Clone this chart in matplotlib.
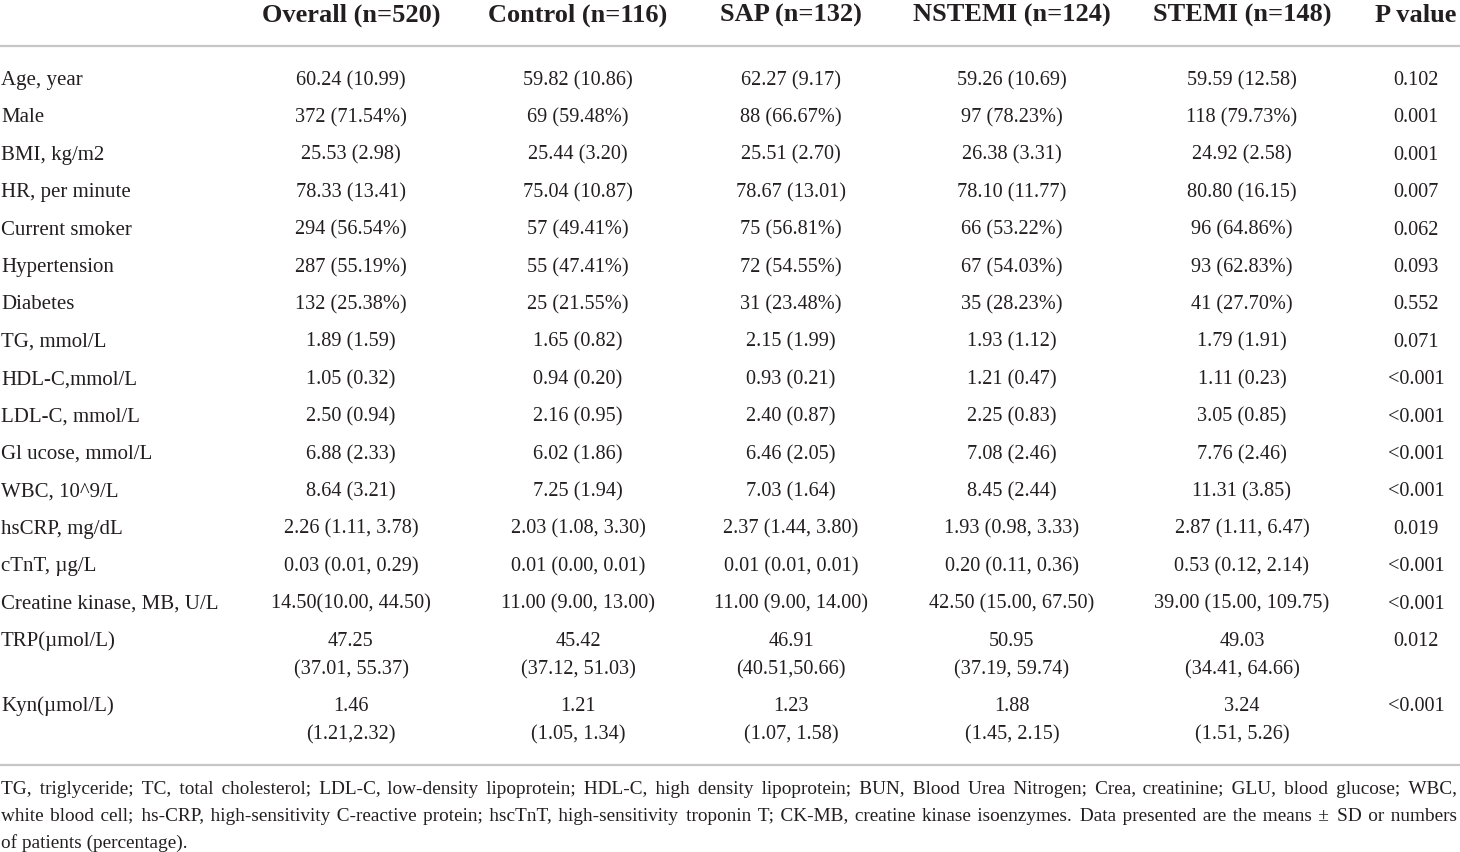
import matplotlib
matplotlib.use("Agg")
import matplotlib.pyplot as plt

headers = ["Overall (n=520)", "Control (n=116)", "SAP (n=132)",
           "NSTEMI (n=124)", "STEMI (n=148)", "P value"]

labels = ["Age, year", "Male", "BMI, kg/m2", "HR, per minute", "Current smoker",
          "Hypertension", "Diabetes", "TG, mmol/L", "HDL-C,mmol/L", "LDL-C, mmol/L",
          "Gl ucose, mmol/L", "WBC, 10^9/L", "hsCRP, mg/dL", "cTnT, \u00b5g/L",
          "Creatine kinase, MB, U/L", "TRP(\u00b5mol/L)", "Kyn(\u00b5mol/L)"]

overall = ["60.24 (10.99)", "372 (71.54%)", "25.53 (2.98)", "78.33 (13.41)", "294 (56.54%)",
           "287 (55.19%)", "132 (25.38%)", "1.89 (1.59)", "1.05 (0.32)", "2.50 (0.94)",
           "6.88 (2.33)", "8.64 (3.21)", "2.26 (1.11, 3.78)", "0.03 (0.01, 0.29)",
           "14.50(10.00, 44.50)", "47.25\n(37.01, 55.37)", "1.46\n(1.21,2.32)"]
control = ["59.82 (10.86)", "69 (59.48%)", "25.44 (3.20)", "75.04 (10.87)", "57 (49.41%)",
           "55 (47.41%)", "25 (21.55%)", "1.65 (0.82)", "0.94 (0.20)", "2.16 (0.95)",
           "6.02 (1.86)", "7.25 (1.94)", "2.03 (1.08, 3.30)", "0.01 (0.00, 0.01)",
           "11.00 (9.00, 13.00)", "45.42\n(37.12, 51.03)", "1.21\n(1.05, 1.34)"]
sap = ["62.27 (9.17)", "88 (66.67%)", "25.51 (2.70)", "78.67 (13.01)", "75 (56.81%)",
       "72 (54.55%)", "31 (23.48%)", "2.15 (1.99)", "0.93 (0.21)", "2.40 (0.87)",
       "6.46 (2.05)", "7.03 (1.64)", "2.37 (1.44, 3.80)", "0.01 (0.01, 0.01)",
       "11.00 (9.00, 14.00)", "46.91\n(40.51,50.66)", "1.23\n(1.07, 1.58)"]
nstemi = ["59.26 (10.69)", "97 (78.23%)", "26.38 (3.31)", "78.10 (11.77)", "66 (53.22%)",
          "67 (54.03%)", "35 (28.23%)", "1.93 (1.12)", "1.21 (0.47)", "2.25 (0.83)",
          "7.08 (2.46)", "8.45 (2.44)", "1.93 (0.98, 3.33)", "0.20 (0.11, 0.36)",
          "42.50 (15.00, 67.50)", "50.95\n(37.19, 59.74)", "1.88\n(1.45, 2.15)"]
stemi = ["59.59 (12.58)", "118 (79.73%)", "24.92 (2.58)", "80.80 (16.15)", "96 (64.86%)",
         "93 (62.83%)", "41 (27.70%)", "1.79 (1.91)", "1.11 (0.23)", "3.05 (0.85)",
         "7.76 (2.46)", "11.31 (3.85)", "2.87 (1.11, 6.47)", "0.53 (0.12, 2.14)",
         "39.00 (15.00, 109.75)", "49.03\n(34.41, 64.66)", "3.24\n(1.51, 5.26)"]
p_value = ["0.102", "0.001", "0.001", "0.007", "0.062", "0.093", "0.552", "0.071",
           "<0.001", "<0.001", "<0.001", "<0.001", "0.019", "<0.001", "<0.001",
           "0.012", "<0.001"]

footnote = [
    "TG, triglyceride; TC, total cholesterol; LDL-C, low-density lipoprotein; HDL-C, high density "
    "lipoprotein; BUN, Blood Urea Nitrogen; Crea, creatinine; GLU, blood glucose; WBC,",
    "white blood cell; hs-CRP, high-sensitivity C-reactive protein; hscTnT, high-sensitivity "
    "troponin T; CK-MB, creatine kinase isoenzymes. Data presented are the means \u00b1 SD or numbers",
    "of patients (percentage).",
]

W, H = 1460, 852
ink = "#231f20"
rule = "#c6c6c6"
serif = "Liberation Serif"
note_fam = ["Liberation Serif", "DejaVu Serif"]
note_size = 13.9

fig = plt.figure(figsize=(W / 100, H / 100), dpi=100)
ax = fig.add_axes([0, 0, 1, 1])
ax.set_xlim(0, W)
ax.set_ylim(H, 0)
ax.axis("off")

col_x = [351, 578, 791, 1012, 1242, 1416]
columns = [overall, control, sap, nstemi, stemi, p_value]

# header (baseline aligned)
for x, h in zip(col_x, headers):
    ax.text(x, 22, h, ha="center", va="baseline", fontsize=19, fontweight="bold",
            family=serif, color=ink)
ax.plot([0, W], [45.5, 45.5], color=rule, lw=1.6, solid_capstyle="butt")

# body, baselines
y = 85
step = 37.4
inner = 28
for i, lab in enumerate(labels):
    ax.text(1, y, lab, ha="left", va="baseline", fontsize=15, family=serif, color=ink)
    nlines = 1
    for x, col in zip(col_x, columns):
        parts = col[i].split("\n")
        nlines = max(nlines, len(parts))
        for k, part in enumerate(parts):
            ax.text(x, y + k * inner, part, ha="center", va="baseline", fontsize=14.6,
                    family=serif, color=ink)
    y += step + (nlines - 1) * inner

bottom = y - step + 25.5
ax.plot([0, W], [bottom, bottom], color=rule, lw=1.6, solid_capstyle="butt")

# footnote: one text per line, justified by padding the word gaps with narrow spaces
renderer = fig.canvas.get_renderer()


def width_of(s):
    t = ax.text(0, 0, s, fontsize=note_size, family=note_fam)
    w = t.get_window_extent(renderer).width
    t.remove()
    return w


base = width_of("xx")
pad_char, pad_w = " ", width_of("x x") - base
for c in ["\u200a", "\u2006", "\u2009"]:
    cw = width_of("x" + c + "x") - base
    if 0.3 < cw < pad_w:
        pad_char, pad_w = c, cw
        break


def justify(words, extra):
    per_gap = extra / (len(words) - 1)
    pieces = [words[0]]
    used = 0
    for g in range(1, len(words)):
        k = max(0, int(round(per_gap * g / pad_w)) - used)
        used += k
        pieces.append(" " + pad_char * k + words[g])
    return "".join(pieces)


target = W - 3
fy = bottom + 29
for n, line in enumerate(footnote):
    words = line.split(" ")
    text = line
    if n < len(footnote) - 1 and len(words) > 1:
        extra = target - width_of(line)
        text = justify(words, extra)
        for _ in range(40):
            if width_of(text) <= target or extra <= 0:
                break
            extra -= pad_w
            text = justify(words, extra)
    ax.text(1, fy, text, ha="left", va="baseline", fontsize=note_size,
            family=note_fam, color=ink)
    fy += 27

fig.savefig("out.png", dpi=100)
